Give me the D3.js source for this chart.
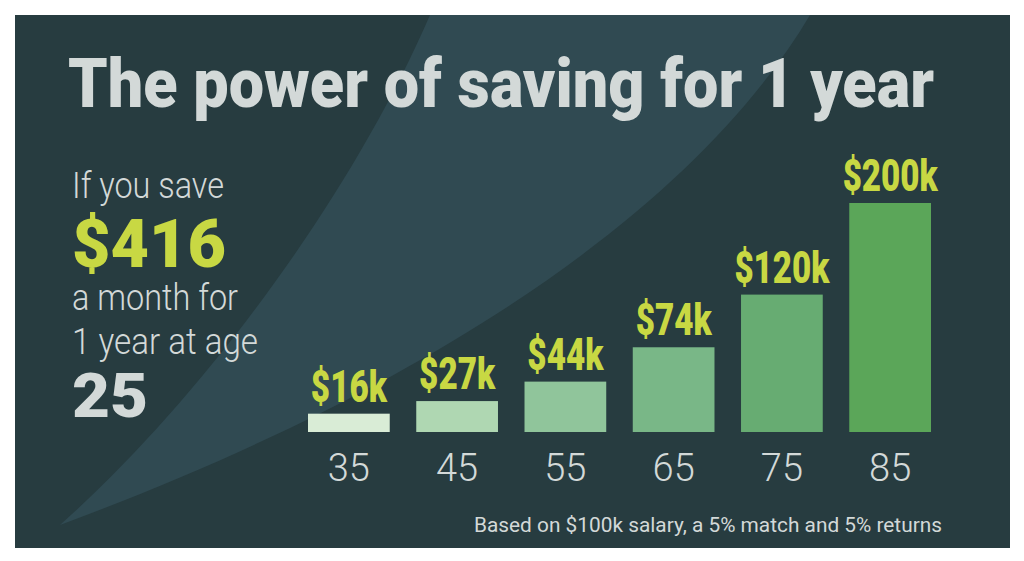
<!DOCTYPE html>
<html><head><meta charset="utf-8">
<script src="https://cdn.jsdelivr.net/npm/d3@7"></script>
<style>body{margin:0;background:#fff}svg{display:block}text{font-family:Roboto,sans-serif}</style>
</head><body><div id="chart"></div>
<script>
const ages = ["35", "45", "55", "65", "75", "85"];
const totals = [16, 27, 44, 74, 120, 200];
const valueLabels = ["$16k", "$27k", "$44k", "$74k", "$120k", "$200k"];
const barColors = ["#d9ecd6", "#afd7b2", "#90c59b", "#79b787", "#67ac72", "#5ba659"];

const svg = d3.select("#chart").append("svg").attr("width", 1024).attr("height", 561);

// panel + swoosh
svg.append("rect").attr("x", 15).attr("y", 15).attr("width", 995).attr("height", 533).attr("fill", "#273c40");
svg.append("path")
  .attr("d", "M60,525 C200,400 350,200 430,15 L810,15 C700,200 450,380 60,525 Z")
  .attr("fill", "#304a52");

const light = "#d3d9d8", yellow = "#c8d843";

svg.append("text").attr("x", 68).attr("y", 107).attr("textLength", 866).attr("lengthAdjust", "spacingAndGlyphs")
  .style("font-size", "68px").style("font-weight", "900").attr("fill", light)
  .text("The power of saving for 1 year");

// left copy
const left = [
  { t: "If you save", y: 198, s: 36, w: 300, c: light, l: 152 },
  { t: "$416", y: 267, s: 66, w: 900, c: yellow, l: 154 },
  { t: "a month for", y: 310, s: 36, w: 300, c: light, l: 166 },
  { t: "1 year at age", y: 354, s: 36, w: 300, c: light, l: 186 },
  { t: "25", y: 417, s: 62, w: 900, c: light, l: 76 }
];
svg.selectAll(".left").data(left).join("text")
  .attr("x", 72).attr("y", d => d.y).attr("textLength", d => d.l).attr("lengthAdjust", "spacingAndGlyphs")
  .style("font-size", d => d.s + "px").style("font-weight", d => d.w).attr("fill", d => d.c)
  .text(d => d.t);

const x = d3.scaleBand().domain(ages).range([308, 931]).paddingInner(0.245).paddingOuter(0);
const y = d3.scaleLinear().domain([0, 200]).range([432, 203]);

svg.selectAll(".bar").data(totals).join("rect")
  .attr("x", (d, i) => x(ages[i])).attr("width", x.bandwidth())
  .attr("y", d => y(d)).attr("height", d => y(0) - y(d))
  .attr("fill", (d, i) => barColors[i]);

svg.selectAll(".val").data(totals).join("text")
  .attr("x", (d, i) => x(ages[i]) + x.bandwidth() / 2).attr("y", d => y(d) - 12)
  .attr("text-anchor", "middle").attr("textLength", (d, i) => valueLabels[i].length * 19).attr("lengthAdjust", "spacingAndGlyphs")
  .style("font-size", "44px").style("font-weight", "900").attr("fill", yellow)
  .text((d, i) => valueLabels[i]);

const axis = svg.append("g").attr("transform", "translate(0,454)")
  .call(d3.axisBottom(x).tickSize(0).tickPadding(0));
axis.select(".domain").remove();
axis.selectAll("text").attr("dy", "0.71em").style("font-size", "38px").style("font-weight", "300")
  .attr("fill", light).style("font-family", "Roboto, sans-serif");

svg.append("text").attr("x", 942).attr("y", 532).attr("text-anchor", "end")
  .attr("textLength", 468).attr("lengthAdjust", "spacingAndGlyphs")
  .style("font-size", "20px").attr("fill", light)
  .text("Based on $100k salary, a 5% match and 5% returns");
</script></body></html>
